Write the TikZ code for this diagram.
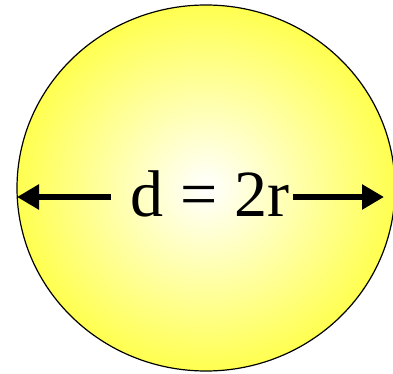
\documentclass[tikz,border=0pt]{standalone}
\usepackage{fontspec}
\setmainfont{Liberation Serif}
\usetikzlibrary{arrows.meta}
\definecolor{discyellow}{RGB}{255,255,80}
\tikzset{
  bigarrow/.style={line width=6pt,-{Triangle[length=22pt,width=24pt]}},
}
\begin{document}
\begin{tikzpicture}[x=1pt,y=-1pt]
    \useasboundingbox (0,0) rectangle (393,374);
    \begin{scope}
    \clip (0,0) rectangle (393,374);
    \draw [line width=1.2pt,inner color=white,outer color=discyellow] (206,188) ellipse [x radius=189,y radius=183];
    \end{scope}
    \node (dlabel) at (210,216) [anchor=base,inner sep=0pt,font=\fontsize{66}{70}\selectfont] {d = 2r};
    \coordinate (lefttip) at (17,197);
    \coordinate (righttip) at (384,197);
    \draw [bigarrow,shorten <=20pt] (dlabel.west |- lefttip) -- (lefttip);
    \draw [bigarrow,shorten <=4pt] (dlabel.east |- righttip) -- (righttip);
\end{tikzpicture}
\end{document}
